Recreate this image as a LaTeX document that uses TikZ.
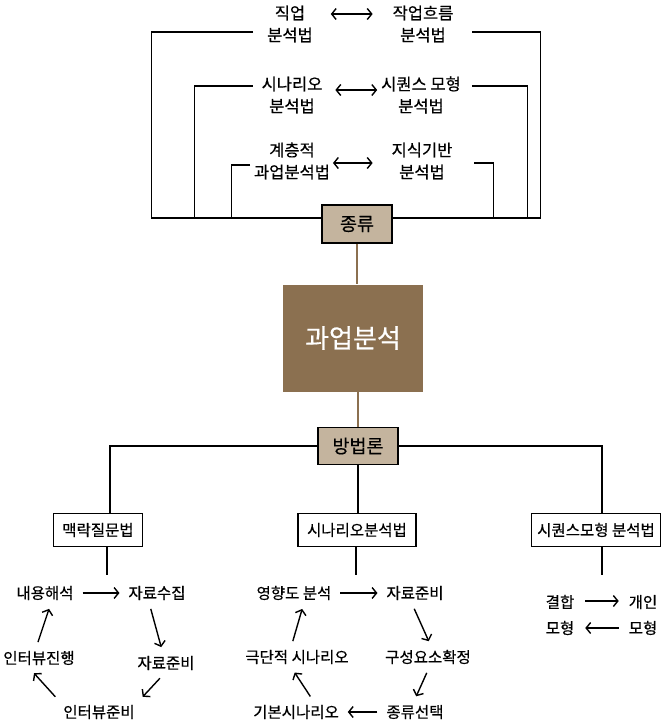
\documentclass[tikz,border=0pt]{standalone}
\usepackage{fontspec}
\setmainfont{Noto Sans CJK KR}[FakeBold = 0.5]
\usetikzlibrary{
    arrows.meta,
    calc,
    positioning
}
\definecolor{kindtan}{HTML}{C4B49E}
\definecolor{umber}{HTML}{8B7050}
\tikzset{
    every picture/.style = {
        > = {Straight Barb[length = 4.5pt, width = 11pt]},
        line width = 1.4pt
    },
    label text/.style = {
        inner sep = 2pt,
        outer sep = 0pt,
        align = center,
        font = \fontsize{16.5}{22}\selectfont
    },
    cycle text/.style = {
        inner sep = 1pt,
        outer sep = 5pt,
        align = center,
        font = \fontsize{15.5}{26}\selectfont
    },
    tag box/.style = {
        draw,
        fill = kindtan,
        font = \fontsize{18.5}{20}\selectfont
    },
    method box/.style = {
        draw,
        fill = white,
        inner xsep = 9pt,
        minimum height = 33pt,
        font = \fontsize{15.5}{18}\selectfont
    },
    flow/.style = {
        ->,
        shorten < = 3pt,
        shorten > = 3pt
    },
    brown line/.style = {
        draw = umber,
        line width = 2pt
    }
}

\begin{document}
\begin{tikzpicture}[x = 1pt, y = -1pt]
    \useasboundingbox (0, 0) rectangle (663, 724);
    % kinds
    \node[label text] (job) at (290, 24) {직업\\분석법};
    \node[label text] (flow) at (423, 24) {작업흐름\\분석법};
    \node[label text] (scen) at (292, 95) {시나리오\\분석법};
    \node[label text] (seqm) at (421, 95) {시퀀스 모형\\분석법};
    \node[label text] (hier) at (292, 161) {계층적\\과업분석법};
    \node[label text] (know) at (422, 161) {지식기반\\분석법};
    \node[tag box, minimum width = 70pt, minimum height = 38pt] (kind) at (357, 224) {종류};
    \node[fill = umber, text = white, minimum width = 140pt, minimum height = 107pt,
        font = \fontsize{26}{28}\selectfont] (task) at (353, 338) {과업분석};
    \node[tag box, minimum width = 80pt, minimum height = 37pt] (method) at (358, 446) {방법론};

    \path[<->] ([yshift = 10pt]job.east) edge[shorten < = 16pt, shorten > = 18pt] ([yshift = 10pt]flow.west);
    \path[<->] ([yshift = 5pt]scen.east) edge[shorten < = 11pt, shorten > = 2pt] ([yshift = 5pt]seqm.west);
    \path[<->] ([yshift = -2pt]hier.east) edge[shorten < = 1pt, shorten > = 17pt] ([yshift = -2pt]know.west);

    \draw[shorten < = 12pt] ([yshift = -8pt]job.west) -| ([xshift = -170pt, yshift = 6pt]kind.west) -- ([yshift = 6pt]kind.west);
    \draw[shorten < = 7pt] ([yshift = 9pt]scen.west) -| ([xshift = -127pt, yshift = 6pt]kind.west);
    \draw[shorten < = 2pt] ([yshift = -4pt]hier.west) -| ([xshift = -90pt, yshift = 6pt]kind.west);
    \draw[shorten < = 17pt] ([yshift = -8pt]flow.east) -| ([xshift = 148pt, yshift = 6pt]kind.east) -- ([yshift = 6pt]kind.east);
    \draw[shorten < = 9pt] ([yshift = 9pt]seqm.east) -| ([xshift = 135pt, yshift = 6pt]kind.east);
    \draw[shorten < = 20pt] ([yshift = -2pt]know.east) -| ([xshift = 101pt, yshift = 6pt]kind.east);

    \path[brown line] (kind.south) -- (kind.south |- task.north);
    \path[brown line] (task.south -| method.north) -- (method.north);

    % methods
    \node[method box] (ctx) at (98, 530) {맥락질문법};
    \node[method box] (scn) at (357, 530) {시나리오분석법};
    \node[method box, inner xsep = 6pt] (seq) at (596, 530) {시퀀스모형 분석법};
    \coordinate (ctx end) at (107, 575);
    \coordinate (scn end) at (356, 575);
    \coordinate (seq end) at (602, 575);

    \draw (method.west) -| ([xshift = 12pt]ctx.north);
    \draw (method.east) -| ([xshift = 6pt]seq.north);
    \draw (method.south) -- (method.south |- scn.north);
    \draw (ctx.south -| ctx end) -- (ctx end);
    \draw (scn.south -| scn end) -- (scn end);
    \draw (seq.south -| seq end) -- (seq end);

    \node[cycle text] (a1) at (45, 593) {내용해석};
    \node[cycle text] (a2) at (157, 593) {자료수집};
    \node[cycle text] (a3) at (166, 663) {자료준비};
    \node[cycle text] (a4) at (99, 712) {인터뷰준비};
    \node[cycle text] (a5) at (39, 658) {인터뷰진행};
    \path[flow] (a1) edge (a2);
    \path[flow] ([xshift = -7pt]a2.south) edge ([xshift = -4pt]a3.north);
    \path[flow] ([xshift = -4pt]a3.south) edge (a4.north east);
    \path[flow] (a4.north west) edge ([xshift = -7pt]a5.south);
    \path[flow] ([xshift = -2pt]a5.north) edge ([xshift = 5pt]a1.south);

    \node[cycle text] (b1) at (294, 593) {영향도 분석};
    \node[cycle text] (b2) at (415, 593) {자료준비};
    \node[cycle text] (b3) at (428, 657) {구성요소확정};
    \node[cycle text] (b4) at (415, 712) {종류선택};
    \node[cycle text] (b5) at (296, 712) {기본시나리오};
    \node[cycle text] (b6) at (297, 657) {극단적 시나리오};
    \path[flow] (b1) edge (b2);
    \path[flow] ([xshift = -2pt]b2.south) edge ([xshift = 2pt]b3.north);
    \path[flow] (b3.south) edge (b4.north);
    \path[flow] (b4) edge (b5);
    \path[flow] ([xshift = 16pt]b5.north) edge ([xshift = -4pt]b6.south);
    \path[flow] ([xshift = -5pt]b6.north) edge ([xshift = 9pt]b1.south);

    \node[cycle text] (c1) at (560, 615) {결합\\모형};
    \node[cycle text] (c2) at (643, 615) {개인\\모형};
    \path[->] ([yshift = 14pt]c1.east) edge[shorten < = 5pt, shorten > = 4pt] ([yshift = 14pt]c2.west);
    \path[->] ([yshift = -13pt]c2.west) edge[shorten < = 4pt, shorten > = 5pt] ([yshift = -13pt]c1.east);
\end{tikzpicture}
\end{document}
